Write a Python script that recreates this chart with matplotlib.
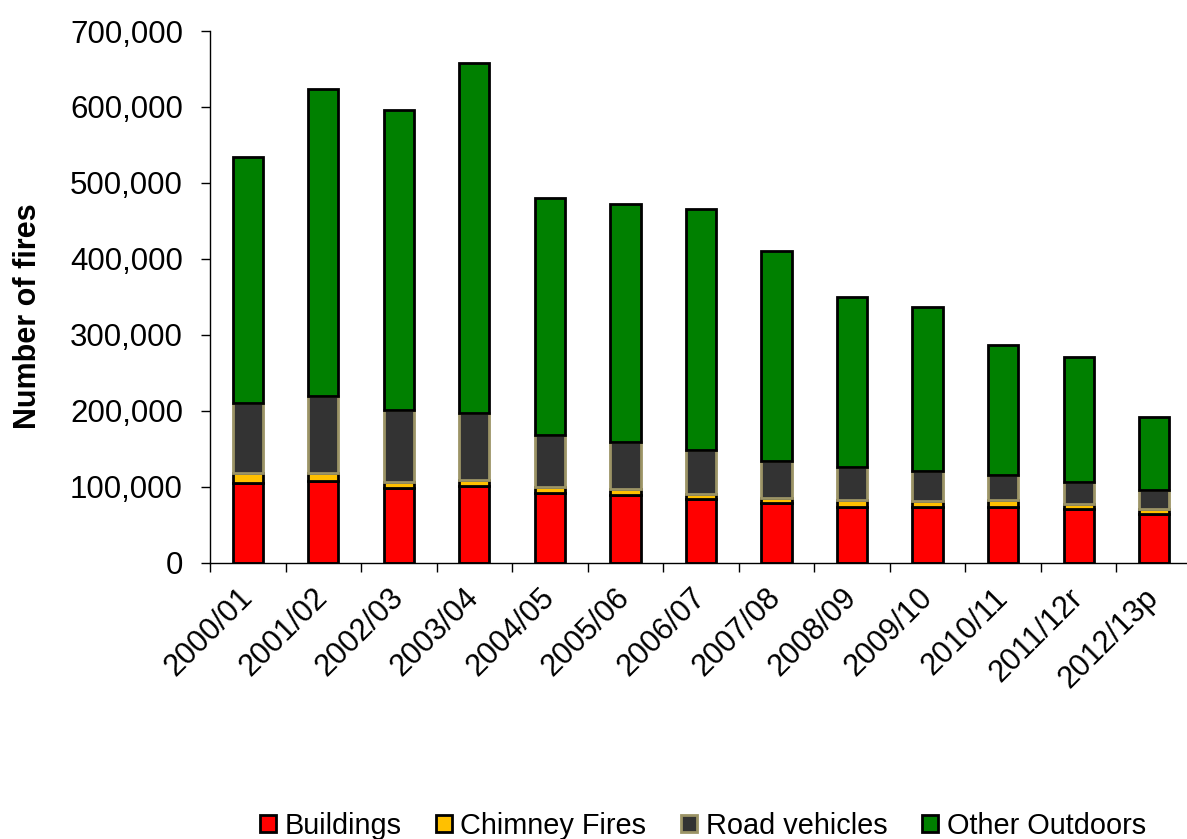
import matplotlib
matplotlib.use('Agg')
import matplotlib.pyplot as plt
from matplotlib.ticker import FuncFormatter
import numpy as np

# values
years = ['2000/01', '2001/02', '2002/03', '2003/04', '2004/05', '2005/06', '2006/07',
         '2007/08', '2008/09', '2009/10', '2010/11', '2011/12r', '2012/13p']
buildings = [105500, 107800, 98100, 100800, 92000, 89400, 84500, 79200, 72700, 72700, 74000, 70500, 64000]
chimney = [13200, 10900, 8700, 8700, 7900, 7400, 6600, 6600, 10100, 7900, 8800, 7400, 6500]
road_vehicles = [91900, 100700, 93800, 87200, 68300, 62600, 57000, 48200, 43700, 40300, 32800, 28900, 25400]
other_outdoors = [324200, 404600, 396000, 461600, 311400, 312300, 317500, 276500, 223500, 216100, 170900, 163900, 96000]

plt.rcParams['font.family'] = ['Liberation Sans', 'DejaVu Sans']

fig = plt.figure(figsize=(11.87, 8.39), dpi=100)
ax = fig.add_axes([0.1769, 0.3293, 0.8273, 0.6337])

x = np.arange(len(years))
w = 0.4
bottom = np.zeros(len(years))
series = [
    ('Buildings', buildings, '#ff0000', 'black'),
    ('Chimney Fires', chimney, '#ffc000', 'black'),
    ('Road vehicles', road_vehicles, '#333333', '#9c9466'),
    ('Other Outdoors', other_outdoors, '#008000', 'black'),
]
for name, vals, col, edge in series:
    ax.bar(x, vals, w, bottom=bottom, color=col, edgecolor=edge, linewidth=2, label=name)
    bottom += np.array(vals)

ax.set_xlim(-0.5, len(years) - 0.5)
ax.set_ylim(0, 700000)
ax.set_yticks(range(0, 700001, 100000))
ax.yaxis.set_major_formatter(FuncFormatter(lambda v, p: '{:,.0f}'.format(v)))
ax.tick_params(axis='y', labelsize=22.5, length=6.5, width=1, pad=13)

ax.set_xticks(x)
ax.set_xticklabels(years, rotation=45, ha='right', va='center', rotation_mode='anchor', fontsize=22)
ax.set_xticks(np.arange(-0.5, len(years)), minor=True)
ax.tick_params(axis='x', which='major', length=0, pad=22)
ax.tick_params(axis='x', which='minor', length=6.5, width=1)

for s in ['top', 'right']:
    ax.spines[s].set_visible(False)
for s in ['left', 'bottom']:
    ax.spines[s].set_linewidth(1)

ax.set_ylabel('Number of fires', fontsize=22, fontweight='bold')
ax.yaxis.set_label_coords(-0.17, 0.464)

fig.legend(loc='center', bbox_to_anchor=(0.592, 1 - 825.5 / 839), ncol=4, frameon=False,
           fontsize=20.8, handlelength=0.55, handleheight=0.55, handletextpad=0.3,
           columnspacing=1.2)

fig.savefig('out.png', dpi=100)
